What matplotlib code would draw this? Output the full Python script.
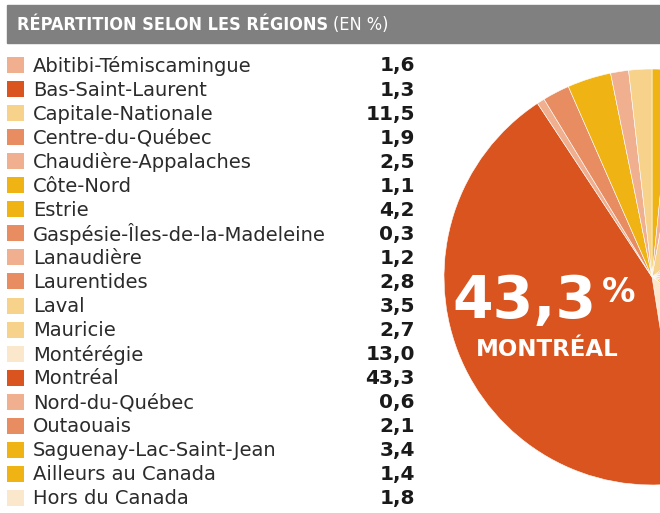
import matplotlib
matplotlib.use("Agg")
import matplotlib.pyplot as plt
from matplotlib.patches import Rectangle

regions = ["Abitibi-Témiscamingue", "Bas-Saint-Laurent", "Capitale-Nationale",
           "Centre-du-Québec", "Chaudière-Appalaches", "Côte-Nord", "Estrie",
           "Gaspésie-Îles-de-la-Madeleine", "Lanaudière", "Laurentides", "Laval",
           "Mauricie", "Montérégie", "Montréal", "Nord-du-Québec", "Outaouais",
           "Saguenay-Lac-Saint-Jean", "Ailleurs au Canada", "Hors du Canada"]
shares = [1.6, 1.3, 11.5, 1.9, 2.5, 1.1, 4.2, 0.3, 1.2, 2.8, 3.5,
          2.7, 13.0, 43.3, 0.6, 2.1, 3.4, 1.4, 1.8]
value_labels = ["1,6", "1,3", "11,5", "1,9", "2,5", "1,1", "4,2", "0,3", "1,2", "2,8",
                "3,5", "2,7", "13,0", "43,3", "0,6", "2,1", "3,4", "1,4", "1,8"]

DARK = "#d9541f"
SALMON = "#e88c62"
LSALMON = "#f0b090"
GOLD = "#efb314"
LYELLOW = "#f7d28a"
CREAM = "#fbe8cc"

legend_colors = [LSALMON, DARK, LYELLOW, SALMON, LSALMON, GOLD, GOLD, SALMON,
                 LSALMON, SALMON, LYELLOW, LYELLOW, CREAM, DARK, LSALMON, SALMON,
                 GOLD, GOLD, CREAM]
# the pie does not use exactly the same colours as the key
pie_colors = [GOLD, LSALMON, LYELLOW, SALMON, LSALMON, GOLD, LYELLOW, SALMON,
              LSALMON, SALMON, LYELLOW, GOLD, CREAM, DARK, LSALMON, SALMON,
              GOLD, LSALMON, LYELLOW]

W, H = 660, 513
fig = plt.figure(figsize=(W / 100, H / 100), dpi=100)
fig.patch.set_facecolor("white")

# pie: centre (652, 277), radius 208 px, cut by the right edge
cx, cy, r = 652, 277, 208
pax = fig.add_axes([(cx - r) / W, (H - cy - r) / H, 2 * r / W, 2 * r / H])
pax.pie(shares, colors=pie_colors, startangle=90, counterclock=False,
        wedgeprops=dict(edgecolor="white", linewidth=0.4))
pax.set_xlim(-1, 1)
pax.set_ylim(-1, 1)
pax.axis("off")

# full-figure overlay in pixel coordinates for title bar, key and labels
ax = fig.add_axes([0, 0, 1, 1])
ax.set_zorder(5)
ax.set_xlim(0, W)
ax.set_ylim(H, 0)
ax.axis("off")

ax.add_patch(Rectangle((7, 5), W - 7, 38, color="#808080", zorder=1))
t = ax.text(17, 25, "RÉPARTITION SELON LES RÉGIONS", color="white", fontsize=13,
            fontweight="bold", family="DejaVu Sans", fontstretch="condensed",
            va="center", ha="left", zorder=2)
fig.canvas.draw()
bb = t.get_window_extent()
ax.text(bb.x1 + 5, 25, "(EN %)", color="white", fontsize=13,
        family="DejaVu Sans", fontstretch="condensed", va="center", ha="left", zorder=2)

y0, step = 65, 24.05
for i, (name, val, c) in enumerate(zip(regions, value_labels, legend_colors)):
    y = y0 + i * step
    ax.add_patch(Rectangle((7, y - 8), 17, 16, color=c, lw=0))
    ax.text(33, y + 1, name, fontsize=14, color="#2b2b2b", va="center", ha="left",
            family="DejaVu Sans")
    ax.text(415, y + 1, val, fontsize=14.5, color="#1a1a1a", va="center", ha="right",
            fontweight="bold", family="DejaVu Sans")

ax.text(524, 302, "43,3", color="white", fontsize=42, fontweight="bold",
        ha="center", va="center", zorder=5)
ax.text(619, 292, "%", color="white", fontsize=24, fontweight="bold",
        ha="center", va="center", zorder=5)
ax.text(547, 350, "MONTRÉAL", color="white", fontsize=16.5, fontweight="bold",
        ha="center", va="center", zorder=5)

fig.savefig("out.png", dpi=100)
